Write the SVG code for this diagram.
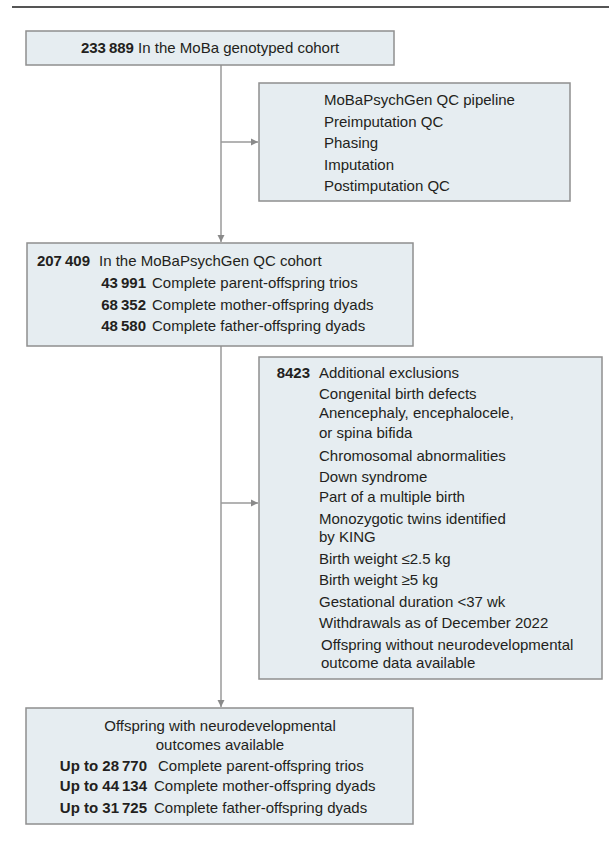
<svg xmlns="http://www.w3.org/2000/svg" width="609" height="846" viewBox="0 0 609 846">
<style>
  .box{fill:#e6edf1;stroke:#8f8f8f;stroke-width:1.5}
  .t{font-family:"Liberation Sans",Arial,sans-serif;font-size:15px;fill:#231f20}
  .b{font-weight:bold}
  .c{text-anchor:middle}
  .e{text-anchor:end}
  .ln{stroke:#9a9a9a;stroke-width:1.5;fill:none}
</style>
<defs>
  <marker id="ah" markerWidth="8" markerHeight="8" refX="7" refY="4" orient="auto" markerUnits="userSpaceOnUse">
    <path d="M0,0.5 L7,4 L0,7.5 Z" fill="#8a8a8a"/>
  </marker>
</defs>
<rect width="609" height="846" fill="#ffffff"/>
<line x1="12" y1="7" x2="609" y2="7" stroke="#555555" stroke-width="2"/>

<g id="connectors">
  <line class="ln" x1="221" y1="65" x2="221" y2="242" marker-end="url(#ah)"/>
  <line class="ln" x1="221" y1="142" x2="258" y2="142" marker-end="url(#ah)"/>
  <line class="ln" x1="221" y1="346" x2="221" y2="707" marker-end="url(#ah)"/>
  <line class="ln" x1="221" y1="503" x2="258" y2="503" marker-end="url(#ah)"/>
</g>

<g id="node-genotyped">
  <rect class="box" x="26" y="31" width="368" height="34"/>
  <text class="t c" x="210" y="53"><tspan class="b">233&#8201;889</tspan>  In the MoBa genotyped cohort</text>
</g>

<g id="node-qc-pipeline">
  <rect class="box" x="259" y="83" width="311" height="118"/>
  <text class="t" x="324" y="105">MoBaPsychGen QC pipeline</text>
  <text class="t" x="324" y="126.5">Preimputation QC</text>
  <text class="t" x="324" y="148">Phasing</text>
  <text class="t" x="324" y="169.5">Imputation</text>
  <text class="t" x="324" y="191">Postimputation QC</text>
</g>

<g id="node-qc-cohort">
  <rect class="box" x="27" y="243" width="386" height="103"/>
  <text class="t b e" x="90" y="266">207&#8201;409</text>
  <text class="t" x="99" y="266">In the MoBaPsychGen QC cohort</text>
  <text class="t b e" x="146" y="288">43&#8201;991</text>
  <text class="t" x="152" y="288">Complete parent-offspring trios</text>
  <text class="t b e" x="146" y="309.5">68&#8201;352</text>
  <text class="t" x="152" y="309.5">Complete mother-offspring dyads</text>
  <text class="t b e" x="146" y="331">48&#8201;580</text>
  <text class="t" x="152" y="331">Complete father-offspring dyads</text>
</g>

<g id="node-exclusions">
  <rect class="box" x="259" y="357" width="343" height="322"/>
  <text class="t b e" x="310" y="378">8423</text>
  <text class="t" x="319" y="378">Additional exclusions</text>
  <text class="t" x="319" y="399">Congenital birth defects</text>
  <text class="t" x="319" y="418">Anencephaly, encephalocele,</text>
  <text class="t" x="319" y="438">or spina bifida</text>
  <text class="t" x="319" y="461">Chromosomal abnormalities</text>
  <text class="t" x="319" y="482">Down syndrome</text>
  <text class="t" x="319" y="502">Part of a multiple birth</text>
  <text class="t" x="319" y="524">Monozygotic twins identified</text>
  <text class="t" x="319" y="542">by KING</text>
  <text class="t" x="319" y="564">Birth weight ≤2.5 kg</text>
  <text class="t" x="319" y="585">Birth weight ≥5 kg</text>
  <text class="t" x="319" y="607">Gestational duration &lt;37 wk</text>
  <text class="t" x="319" y="628">Withdrawals as of December 2022</text>
  <text class="t" x="321" y="650">Offspring without neurodevelopmental</text>
  <text class="t" x="321" y="668">outcome data available</text>
</g>

<g id="node-outcomes">
  <rect class="box" x="26" y="708" width="387" height="116"/>
  <text class="t c" x="220" y="731">Offspring with neurodevelopmental</text>
  <text class="t c" x="220" y="750">outcomes available</text>
  <text class="t b e" x="147" y="771">Up to 28&#8201;770</text>
  <text class="t" x="158" y="771">Complete parent-offspring trios</text>
  <text class="t b e" x="147" y="791">Up to 44&#8201;134</text>
  <text class="t" x="154" y="791">Complete mother-offspring dyads</text>
  <text class="t b e" x="147" y="813">Up to 31&#8201;725</text>
  <text class="t" x="154" y="813">Complete father-offspring dyads</text>
</g>
</svg>
